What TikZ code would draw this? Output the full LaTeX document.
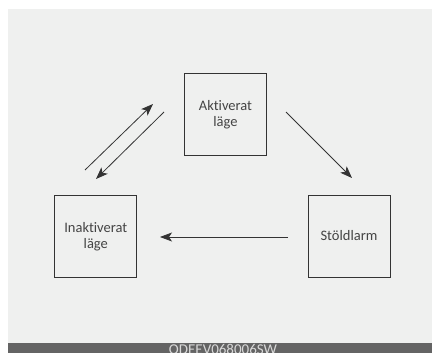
\documentclass[tikz,border=0pt]{standalone}
\usepackage{fontspec}
\setmainfont[Ligatures=CommonOff]{Carlito}
\usetikzlibrary{arrows.meta}
\definecolor{bggray}{HTML}{EFF0EF}
\definecolor{bargray}{HTML}{646464}
\definecolor{linegray}{HTML}{333333}
\definecolor{txtgray}{HTML}{444444}
\begin{document}
\begin{tikzpicture}[x=1pt,y=-1pt,
  statebox/.style={draw=linegray,line width=0.9pt,fill=bggray,minimum width=82pt,minimum height=82pt,inner sep=0pt},
  lbl/.style={text=txtgray,font=\fontsize{14.5}{17}\selectfont,inner sep=0pt,anchor=center},
  conn/.style={draw=linegray,line width=0.8pt,-{Stealth[length=12pt,width=9pt,inset=3pt]}}]
\useasboundingbox (0,0) rectangle (432,353);
\fill[white] (0,0) rectangle (432,353);
\fill[bggray] (8,9) rectangle (432,343);
\fill[bargray] (8,343) rectangle (432,353);
\node[text=white!85!black,font=\fontsize{15}{16}\selectfont,anchor=north,inner sep=0pt] (code) at (223,344) {ODEEV068006SW};
\node[statebox] (akt) at (225.5,114) {};
\node[statebox] (inakt) at (95.8,236) {};
\node[statebox] (stold) at (349,236) {};
\node[lbl] (akt1) at ([yshift=8.5pt]akt.center) {Aktiverat};
\node[lbl] (akt2) at ([yshift=-8.5pt]akt.center) {läge};
\node[lbl] (inakt1) at ([yshift=8.5pt]inakt.center) {Inaktiverat};
\node[lbl] (inakt2) at ([yshift=-8.5pt]inakt.center) {läge};
\node[lbl] (stold1) at (stold.center) {Stöldlarm};
\coordinate (a1) at (286,112);
\coordinate (a2) at (352,178);
\coordinate (b1) at (288,237);
\coordinate (b2) at (160,237);
\coordinate (c1) at (85,170);
\coordinate (c2) at (153,104);
\coordinate (d1) at (164,112);
\coordinate (d2) at (96,179);
\draw[conn] (a1) -- (a2);
\draw[conn] (b1) -- (b2);
\draw[conn] (c1) -- (c2);
\draw[conn] (d1) -- (d2);
\end{tikzpicture}
\end{document}
